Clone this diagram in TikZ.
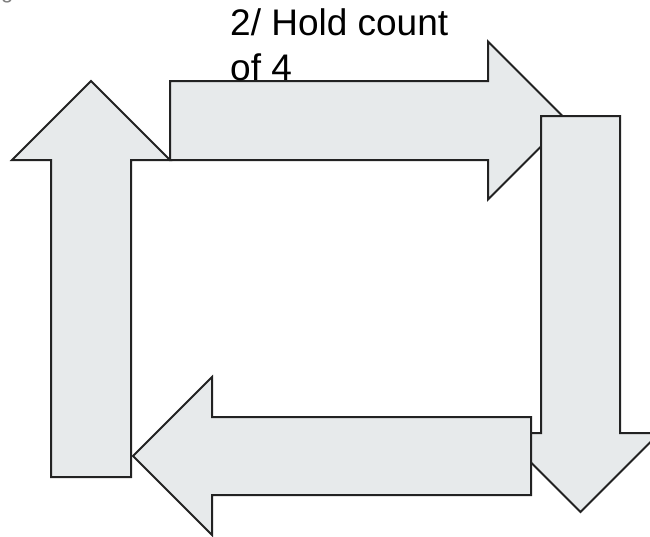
\documentclass[tikz,border=0pt]{standalone}
\usepackage{fontspec}
\setmainfont{Liberation Sans}
\definecolor{arrowfill}{HTML}{E7EAEB}
\definecolor{arrowline}{HTML}{222222}
\tikzset{blockarrow/.style={fill=arrowfill,draw=arrowline,line width=2pt,line join=miter}}
\begin{document}
\begin{tikzpicture}[x=1pt,y=-1pt]
\clip (0,0) rectangle (650,536);
% cut-off glyph at top-left
\node[anchor=base west,inner sep=0,text=gray,font=\fontsize{22}{26}\selectfont] (cut) at (1,-1.5) {g};
% up arrow
\draw[blockarrow] (51,477) -- (51,160) -- (12,160) -- (91,81) -- (170,160) -- (131,160) -- (131,477) -- cycle;
% right arrow
\draw[blockarrow] (170,81) -- (488,81) -- (488,41.5) -- (567,120.5) -- (488,199.5) -- (488,160) -- (170,160) -- cycle;
% down arrow
\draw[blockarrow] (541,116) -- (620,116) -- (620,433) -- (659.5,433) -- (580.5,512) -- (501.5,433) -- (541,433) -- cycle;
% left arrow
\draw[blockarrow] (531,417) -- (212,417) -- (212,377) -- (133,456) -- (212,535) -- (212,495) -- (531,495) -- cycle;
% label
\node[anchor=base west,inner sep=0,align=left,font=\fontsize{37}{45}\selectfont] (label) at (230,80) {2/ Hold count\\of 4};
\end{tikzpicture}
\end{document}
